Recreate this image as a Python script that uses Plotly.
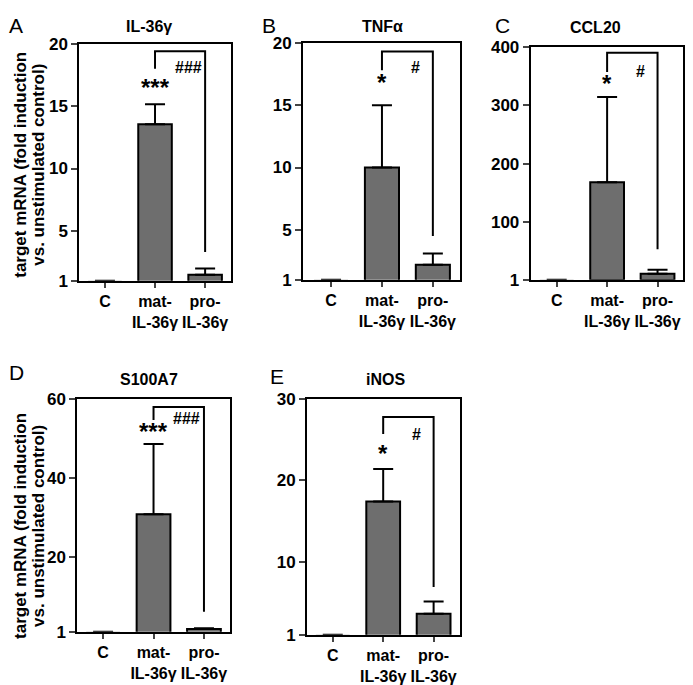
import plotly.graph_objects as go

# ---- data ----
categories = ["C", "mat-<br>IL-36γ", "pro-<br>IL-36γ"]
panel_letters = ["A", "B", "C", "D", "E"]
panel_titles = ["IL-36γ", "TNFα", "CCL20", "S100A7", "iNOS"]

il36g_mean = [1, 13.56, 1.48]
il36g_err = [0, 1.6, 0.5]
tnfa_mean = [1, 10.0, 2.2]
tnfa_err = [0, 5.0, 0.9]
ccl20_mean = [1, 168, 11]
ccl20_err = [0, 146, 7]
s100a7_mean = [1, 30.8, 1.7]
s100a7_err = [0, 17.8, 0.2]
inos_mean = [1, 17.4, 3.6]
inos_err = [0, 4.0, 1.5]

y_max = [20, 20, 400, 60, 30]
y_ticks = [[1, 5, 10, 15, 20], [1, 5, 10, 15, 20], [1, 100, 200, 300, 400],
           [1, 20, 40, 60], [1, 10, 20, 30]]

star_labels = ["***", "*", "*", "***", "*"]
hash_labels = ["###", "#", "#", "###", "#"]
# bracket: left-bottom, top, right-bottom (data units)
bracket_left = [18.0, 17.8, 357, 54.7, 25.7]
bracket_top = [19.4, 19.3, 390, 58.0, 27.8]
bracket_right = [3.3, 4.5, 53, 6.1, 6.9]
star_y = [16.5, 16.8, 338, 51.9, 23.3]
hash_y = [18.1, 18.0, 357, 55.2, 25.7]

means = [il36g_mean, tnfa_mean, ccl20_mean, s100a7_mean, inos_mean]
errs = [il36g_err, tnfa_err, ccl20_err, s100a7_err, inos_err]

# ---- layout geometry (target-image pixels, converted to paper fractions) ----
W, H = 677, 685


def px(x):
    return (x - 7.5) / W


def py(y):
    return 1 - ((y - 17.2) / 0.969) / H


boxes = [(79, 231, 44, 280), (303, 460, 43, 279), (531, 683, 47, 279),
         (77, 230, 398, 630), (307, 460, 398, 633)]
xranges = [[-0.51, 2.52], [-0.55, 2.53], [-0.515, 2.495], [-0.51, 2.52], [-0.51, 2.52]]
title_cx = [149, 383, 596, 149, 386]
title_cy = [27, 27, 28, 378, 378]
letter_pos = [(16, 26), (269, 26), (503, 26), (16, 372), (277, 375)]

FONT = "Liberation Sans, Arial, sans-serif"
fig = go.Figure()
layout = dict(width=W, height=H, margin=dict(l=0, r=0, t=0, b=0),
              paper_bgcolor="white", plot_bgcolor="white", showlegend=False,
              font=dict(family=FONT, color="black"))
annotations = []
shapes = []
xs = [0, 1, 2]
for i in range(5):
    n = "" if i == 0 else str(i + 1)
    xa, ya = "x" + n, "y" + n
    x0, x1, y0, y1 = boxes[i]
    fig.add_trace(go.Bar(
        x=xs, y=means[i], xaxis=xa, yaxis=ya, width=0.67,
        marker=dict(color="#6e6e6e",
                    line=dict(color=["rgba(0,0,0,0)", "black", "black"], width=2)),
        error_y=dict(type="data", array=errs[i], arrayminus=[0, 0, 0],
                     symmetric=False, color="black", thickness=2, width=10),
        cliponaxis=True))
    layout["xaxis" + n] = dict(
        domain=[px(x0), px(x1)], anchor=ya, range=xranges[i],
        tickvals=xs, ticktext=categories, ticks="outside", ticklen=5,
        tickwidth=2, showline=True, linewidth=2, linecolor="black", tickangle=0,
        mirror=True, showgrid=False, zeroline=False, fixedrange=True,
        tickfont=dict(size=16, weight="bold", family=FONT, color="black"))
    layout["yaxis" + n] = dict(
        domain=[py(y1), py(y0)], anchor=xa, range=[1, y_max[i]],
        tickvals=y_ticks[i], ticks="outside", ticklen=6, tickwidth=2,
        showline=True, linewidth=2, linecolor="black", mirror=True,
        showgrid=False, zeroline=False,
        tickfont=dict(size=17, weight="bold", family=FONT, color="black"))
    # bracket
    shapes.append(dict(
        type="path", xref=xa, yref=ya,
        path=f"M 1 {bracket_left[i]} L 1 {bracket_top[i]} L 2 {bracket_top[i]} L 2 {bracket_right[i]}",
        line=dict(color="black", width=2)))
    annotations.append(dict(x=1, y=star_y[i], xref=xa, yref=ya, text=star_labels[i],
                            showarrow=False, xanchor="center", yanchor="middle",
                            font=dict(size=24, weight="bold", family=FONT)))
    annotations.append(dict(x=1.66, y=hash_y[i], xref=xa, yref=ya, text=hash_labels[i],
                            showarrow=False, xanchor="center", yanchor="middle",
                            font=dict(size=16, weight="bold", family=FONT)))
    annotations.append(dict(x=px(title_cx[i]), y=py(title_cy[i]), xref="paper", yref="paper",
                            text=panel_titles[i], showarrow=False, xanchor="center",
                            yanchor="middle",
                            font=dict(size=16, weight="bold", family=FONT)))
    lx, ly = letter_pos[i]
    annotations.append(dict(x=px(lx), y=py(ly), xref="paper", yref="paper",
                            text=panel_letters[i], showarrow=False, xanchor="center",
                            yanchor="middle", font=dict(size=21, family=FONT)))

ylabel_lines = ["target mRNA (fold induction", "vs. unstimulated control)"]
for yc in [164, 524]:
    for xl, line in zip([20, 38], ylabel_lines):
        annotations.append(dict(x=px(xl), y=py(yc), xref="paper", yref="paper",
                                text=line, textangle=-90, showarrow=False,
                                xanchor="center", yanchor="middle",
                                font=dict(size=17, weight="bold", family=FONT)))

layout["annotations"] = annotations
layout["shapes"] = shapes
fig.update_layout(**layout)
fig.write_html("out.html")
